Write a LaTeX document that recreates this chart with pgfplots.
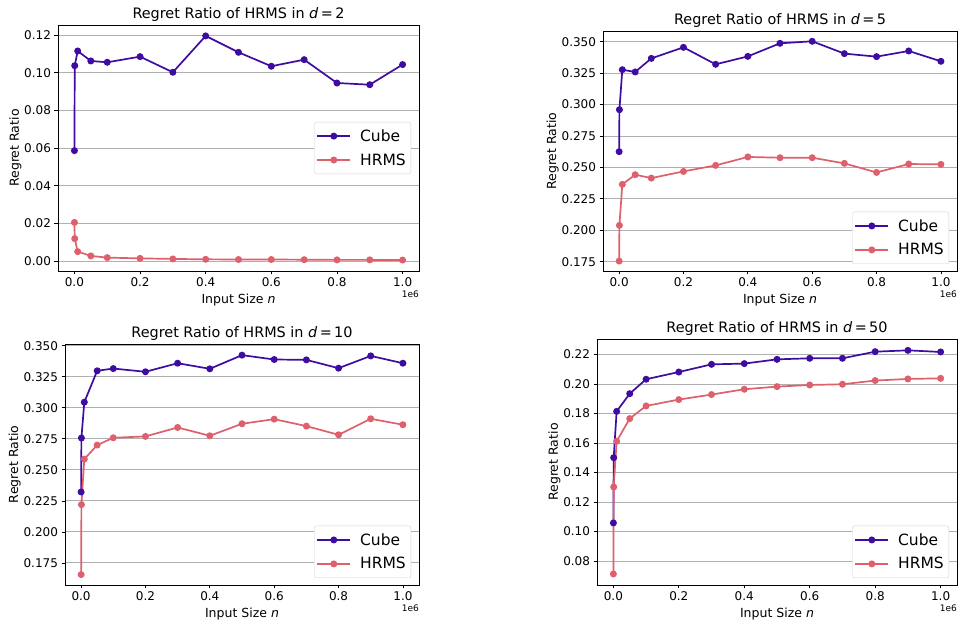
\documentclass[border=0pt]{standalone}
\usepackage{fontspec}
\setmainfont{DejaVu Sans}
\usepackage{pgfplots}
\pgfplotsset{compat=1.18}

\definecolor{cube}{RGB}{62,12,160}
\definecolor{hrms}{RGB}{221,96,108}
\definecolor{gridgray}{RGB}{176,176,176}
\definecolor{legframe}{RGB}{210,210,210}

\pgfplotsset{
  rr/.style={
    scale only axis, clip=false,
    xmin=-0.05, xmax=1.05,
    xtick={0,0.2,0.4,0.6,0.8,1.0},
    tick pos=left, tick align=outside,
    major tick length=3.5pt,
    tick style={black, line width=0.8pt},
    axis line style={black, line width=0.8pt},
    ymajorgrids, major grid style={gridgray, line width=0.9pt},
    scaled x ticks=false, scaled y ticks=false,
    tick label style={font=\fontsize{12}{14}\selectfont},
    xticklabel style={/pgf/number format/.cd, fixed, fixed zerofill, precision=1},
    /pgf/number format/assume math mode=true,
    label style={font=\fontsize{12.5}{15}\selectfont},
    xlabel={Input Size \textit{n}},
    ylabel={Regret Ratio},
    ylabel style={yshift=-4pt},
    every axis title/.style={font=\fontsize{14.4}{17}\selectfont, at={(0.5,1)}, anchor=base, yshift=6pt, inner sep=0pt},
    legend cell align=left,
    legend style={font=\fontsize{15.5}{18}\selectfont, draw=legframe, rounded corners=2pt,
      fill=white, inner xsep=2pt, inner ysep=2pt,
      nodes={inner xsep=3pt, inner ysep=5.4pt},
      /tikz/every odd column/.append style={column sep=6pt}},
    legend image code/.code={\draw[mark repeat=2, mark phase=2] plot coordinates {(0pt,0pt) (16.5pt,0pt) (33pt,0pt)};},
    every axis plot/.append style={line width=1.7pt, mark=*, mark size=2.6pt},
  },
  cubeline/.style={cube, mark options={fill=cube, draw=cube}},
  hrmsline/.style={hrms, mark options={fill=hrms, draw=hrms}},
}

\newcommand{\offsettext}{\node[anchor=north east, font=\fontsize{9}{11}\selectfont, inner sep=0pt, yshift=-20pt] at (rel axis cs:1,0) {1e6};}

\begin{document}
\begin{tikzpicture}
\path[use as bounding box] (0,0) rectangle (958pt,623pt);

% d = 2
\begin{axis}[rr, at={(58pt,352pt)}, anchor=south west, width=361pt, height=246pt,
  ymin=-0.0053, ymax=0.1253,
  ytick={0,0.02,0.04,0.06,0.08,0.10,0.12},
  yticklabel style={/pgf/number format/.cd, fixed, fixed zerofill, precision=2},
  title={Regret Ratio of HRMS in \textit{d}\,=\,2},
  legend style={at={(1,0.5)}, anchor=east, xshift=-8pt}]
\addplot[cubeline] coordinates {
  (0.0001,0.0586) (0.001,0.1037) (0.01,0.1115) (0.05,0.1062) (0.1,0.1055)
  (0.2,0.1085) (0.3,0.1002) (0.4,0.1195) (0.5,0.1108) (0.6,0.1034)
  (0.7,0.1069) (0.8,0.0945) (0.9,0.0936) (1.0,0.1043)};
\addplot[hrmsline] coordinates {
  (0.0001,0.0205) (0.001,0.0119) (0.01,0.0050) (0.05,0.0027) (0.1,0.0018)
  (0.2,0.0014) (0.3,0.0011) (0.4,0.0009) (0.5,0.0008) (0.6,0.0008)
  (0.7,0.0007) (0.8,0.0006) (0.9,0.0006) (1.0,0.0005)};
\legend{Cube, HRMS}
\offsettext
\end{axis}

% d = 5
\begin{axis}[rr, at={(603pt,352pt)}, anchor=south west, width=354pt, height=240pt,
  ymin=0.1676, ymax=0.3585,
  ytick={0.175,0.2,0.225,0.25,0.275,0.3,0.325,0.35},
  yticklabel style={/pgf/number format/.cd, fixed, fixed zerofill, precision=3},
  title={Regret Ratio of HRMS in \textit{d}\,=\,5},
  legend style={at={(1,0)}, anchor=south east, xshift=-8pt, yshift=7pt}]
\addplot[cubeline] coordinates {
  (0.0001,0.2625) (0.001,0.2959) (0.01,0.3277) (0.05,0.3259) (0.1,0.3367)
  (0.2,0.3455) (0.3,0.3320) (0.4,0.3383) (0.5,0.3487) (0.6,0.3503)
  (0.7,0.3405) (0.8,0.3381) (0.9,0.3426) (1.0,0.3344)};
\addplot[hrmsline] coordinates {
  (0.0001,0.1755) (0.001,0.2039) (0.01,0.2365) (0.05,0.2442) (0.1,0.2415)
  (0.2,0.2468) (0.3,0.2516) (0.4,0.2583) (0.5,0.2577) (0.6,0.2577)
  (0.7,0.2532) (0.8,0.2460) (0.9,0.2527) (1.0,0.2524)};
\legend{Cube, HRMS}
\offsettext
\end{axis}

% d = 10
\begin{axis}[rr, at={(65pt,38pt)}, anchor=south west, width=354pt, height=241pt,
  ymin=0.1572, ymax=0.3515,
  ytick={0.175,0.2,0.225,0.25,0.275,0.3,0.325,0.35},
  yticklabel style={/pgf/number format/.cd, fixed, fixed zerofill, precision=3},
  title={Regret Ratio of HRMS in \textit{d}\,=\,10},
  legend style={at={(1,0)}, anchor=south east, xshift=-8pt, yshift=7pt}]
\addplot[cubeline] coordinates {
  (0.0001,0.2322) (0.001,0.2757) (0.01,0.3046) (0.05,0.3299) (0.1,0.3317)
  (0.2,0.3291) (0.3,0.3360) (0.4,0.3315) (0.5,0.3425) (0.6,0.3390)
  (0.7,0.3387) (0.8,0.3320) (0.9,0.3419) (1.0,0.3360)};
\addplot[hrmsline] coordinates {
  (0.0001,0.1656) (0.001,0.2220) (0.01,0.2587) (0.05,0.2700) (0.1,0.2759)
  (0.2,0.2770) (0.3,0.2842) (0.4,0.2775) (0.5,0.2872) (0.6,0.2909)
  (0.7,0.2853) (0.8,0.2783) (0.9,0.2912) (1.0,0.2864)};
\legend{Cube, HRMS}
\offsettext
\end{axis}

% d = 50
\begin{axis}[rr, at={(597pt,38pt)}, anchor=south west, width=360pt, height=246pt,
  ymin=0.0637, ymax=0.2306,
  ytick={0.08,0.10,0.12,0.14,0.16,0.18,0.20,0.22},
  yticklabel style={/pgf/number format/.cd, fixed, fixed zerofill, precision=2},
  title={Regret Ratio of HRMS in \textit{d}\,=\,50},
  legend style={at={(1,0)}, anchor=south east, xshift=-8pt, yshift=7pt}]
\addplot[cubeline] coordinates {
  (0.0001,0.1058) (0.001,0.1501) (0.01,0.1815) (0.05,0.1935) (0.1,0.2033)
  (0.2,0.2082) (0.3,0.2134) (0.4,0.2139) (0.5,0.2168) (0.6,0.2175)
  (0.7,0.2175) (0.8,0.2220) (0.9,0.2229) (1.0,0.2218)};
\addplot[hrmsline] coordinates {
  (0.0001,0.0712) (0.001,0.1302) (0.01,0.1612) (0.05,0.1766) (0.1,0.1852)
  (0.2,0.1895) (0.3,0.1929) (0.4,0.1965) (0.5,0.1983) (0.6,0.1994)
  (0.7,0.1999) (0.8,0.2024) (0.9,0.2035) (1.0,0.2039)};
\legend{Cube, HRMS}
\offsettext
\end{axis}
\end{tikzpicture}
\end{document}
